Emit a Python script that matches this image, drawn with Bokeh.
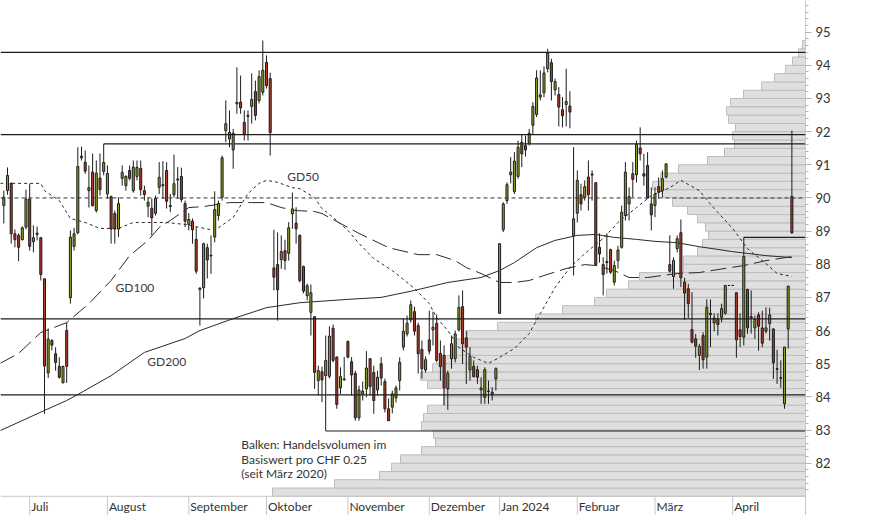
from bokeh.plotting import figure
from bokeh.models import Range1d, FixedTicker, Span, ColumnDataSource
from bokeh.core.properties import value
from bokeh.embed import file_html
from bokeh.resources import INLINE

# ---------------- data (daily candles, trading-day index 0..213) ----------------
open_ = [
    89.77, 90.22, 90.44, 88.92, 88.87, 88.74, 89.12, 89.97, 88.68, 88.90,
    88.80, 87.56, 84.72, 85.70, 85.30, 84.92, 84.42, 86.00, 86.99, 88.54,
    88.95, 91.21, 91.08, 90.22, 90.78, 89.62, 90.60, 90.80, 90.12, 90.04,
    89.53, 89.06, 90.59, 90.37, 90.83, 90.22, 90.65, 90.89, 90.22, 89.75,
    89.69, 89.54, 90.32, 90.37, 90.83, 89.74, 90.10, 90.54, 90.65, 89.83,
    89.20, 89.30, 88.75, 87.24, 87.29, 88.50, 88.25, 88.82, 89.47, 90.02,
    92.03, 91.78, 91.45, 92.84, 92.89, 92.28, 92.46, 92.76, 93.21, 92.94,
    93.19, 94.09, 93.60, 87.89, 87.99, 88.14, 88.41, 88.33, 89.52, 89.24,
    88.87, 87.93, 87.05, 86.55, 86.42, 84.49, 84.76, 84.64, 84.62, 86.07,
    85.20, 84.27, 84.51, 85.67, 85.06, 84.71, 83.37, 84.09, 84.24, 85.15,
    84.74, 84.21, 85.00, 84.46, 83.64, 83.69, 83.97, 84.49, 85.50, 85.90,
    86.32, 86.57, 86.15, 85.43, 84.81, 85.72, 86.02, 86.22, 85.31, 85.25,
    84.24, 85.15, 85.15, 86.02, 86.72, 85.78, 84.81, 84.92, 84.82, 84.21,
    83.99, 84.16, 84.14, 84.54, 86.52, 89.04, 89.92, 90.70, 90.19, 90.65,
    91.68, 91.58, 91.65, 92.19, 92.52, 93.04, 93.17, 93.90, 94.08, 93.26,
    93.12, 92.66, 92.82, 92.77, 88.87, 89.54, 90.10, 90.02, 90.63, 90.69,
    90.46, 88.51, 87.99, 88.05, 88.44, 87.46, 88.11, 88.51, 89.47, 89.82,
    90.73, 90.70, 91.51, 90.73, 90.98, 89.82, 89.77, 90.34, 90.22, 90.63,
    87.99, 87.63, 88.47, 88.95, 87.46, 87.26, 86.03, 85.75, 85.25, 85.85,
    85.20, 86.48, 86.23, 86.33, 86.40, 86.52, 87.36, 87.36, 87.14, 86.02,
    85.80, 87.24, 86.42, 86.08, 86.47, 86.08, 85.98, 86.21, 86.05, 84.85,
    84.58, 83.79, 86.05, 90.05,
]
high_ = [
    90.22, 90.92, 90.47, 89.05, 88.93, 89.14, 90.25, 90.43, 89.17, 89.14,
    88.82, 87.57, 86.06, 85.74, 85.50, 85.19, 84.94, 86.23, 89.02, 89.10,
    91.53, 91.55, 91.43, 90.98, 91.34, 91.13, 91.34, 91.63, 90.98, 90.07,
    89.62, 90.02, 90.98, 90.68, 90.98, 91.13, 91.13, 91.13, 90.37, 90.02,
    89.98, 90.07, 91.08, 91.11, 91.08, 90.12, 91.31, 90.93, 90.91, 89.92,
    89.54, 89.38, 89.12, 87.30, 88.65, 88.62, 88.87, 90.20, 89.92, 91.28,
    92.94, 92.64, 92.08, 93.94, 93.69, 92.64, 92.64, 93.76, 93.54, 93.85,
    94.75, 94.30, 93.78, 89.04, 88.96, 88.87, 88.74, 89.27, 90.16, 89.72,
    88.90, 87.96, 87.42, 87.39, 86.42, 84.94, 84.91, 85.85, 86.13, 86.18,
    85.22, 84.89, 85.20, 85.70, 85.20, 84.79, 84.34, 84.46, 85.38, 85.16,
    84.94, 84.79, 85.20, 84.55, 83.95, 84.19, 84.34, 85.19, 86.36, 86.45,
    86.91, 86.72, 86.24, 85.70, 85.22, 86.60, 86.57, 86.48, 85.70, 85.55,
    84.79, 85.85, 86.00, 87.06, 87.21, 86.00, 85.50, 85.10, 84.94, 84.59,
    84.89, 84.49, 84.29, 84.89, 88.63, 89.87, 90.47, 91.23, 91.38, 91.73,
    91.93, 91.88, 92.08, 92.89, 93.85, 93.85, 93.97, 94.50, 94.20, 93.60,
    93.34, 93.04, 93.90, 93.22, 91.53, 90.83, 90.43, 90.53, 91.13, 90.83,
    90.47, 88.93, 88.21, 88.93, 88.47, 88.11, 88.56, 89.77, 91.08, 90.32,
    91.08, 91.73, 92.13, 91.33, 91.38, 90.32, 90.32, 90.62, 90.83, 91.03,
    88.87, 88.21, 88.87, 89.35, 87.59, 87.41, 87.16, 85.90, 85.60, 85.95,
    86.94, 86.94, 86.52, 86.52, 86.81, 87.36, 87.36, 87.36, 87.15, 86.52,
    88.81, 87.26, 87.21, 86.45, 86.55, 86.60, 86.70, 86.69, 86.06, 85.42,
    85.10, 85.50, 87.35, 92.03,
]
low_ = [
    89.23, 90.10, 88.62, 88.51, 88.09, 88.72, 89.05, 88.41, 88.36, 88.72,
    87.51, 83.49, 84.57, 85.40, 84.79, 84.55, 84.42, 84.42, 86.81, 88.41,
    88.90, 91.13, 90.73, 89.71, 89.74, 89.56, 90.07, 90.68, 89.98, 88.62,
    88.62, 88.82, 90.37, 90.22, 90.53, 90.16, 90.53, 90.07, 89.92, 89.42,
    88.87, 89.47, 90.12, 89.97, 89.68, 89.57, 90.01, 89.97, 89.87, 89.12,
    89.02, 88.62, 87.71, 86.15, 86.97, 87.57, 87.71, 88.66, 89.32, 89.92,
    91.68, 91.53, 90.88, 92.54, 92.54, 91.73, 91.73, 92.24, 92.34, 92.85,
    93.09, 93.30, 91.28, 87.21, 86.30, 87.86, 87.83, 88.11, 89.07, 88.62,
    87.45, 87.12, 86.91, 85.85, 84.24, 84.04, 83.84, 82.97, 84.55, 85.04,
    83.64, 84.09, 84.49, 85.16, 84.04, 83.28, 83.28, 83.89, 83.99, 84.04,
    83.49, 84.04, 84.34, 83.53, 83.28, 83.50, 83.83, 84.19, 85.40, 85.82,
    86.24, 85.85, 84.70, 84.55, 84.73, 85.28, 85.55, 85.04, 84.49, 83.74,
    83.61, 84.85, 85.04, 85.97, 84.99, 84.39, 84.49, 84.59, 84.39, 83.79,
    83.79, 83.79, 83.89, 84.19, 86.50, 88.97, 89.82, 90.44, 90.12, 90.58,
    90.93, 91.25, 91.58, 91.93, 92.44, 92.94, 93.04, 93.79, 92.94, 93.09,
    92.16, 92.13, 92.16, 92.10, 87.66, 89.26, 89.62, 89.92, 89.62, 89.92,
    87.96, 88.05, 87.06, 87.72, 87.71, 87.36, 87.87, 88.47, 89.32, 89.32,
    90.02, 90.47, 91.13, 90.37, 89.98, 89.02, 89.42, 89.98, 90.02, 90.59,
    87.75, 87.26, 88.36, 87.31, 86.32, 86.38, 85.61, 85.18, 84.81, 84.85,
    84.85, 85.50, 85.98, 85.85, 86.25, 86.48, 87.36, 87.36, 85.18, 85.50,
    85.55, 85.90, 85.91, 85.75, 85.39, 85.50, 85.91, 85.70, 84.54, 84.39,
    84.27, 83.64, 85.45, 88.92,
]
close_ = [
    90.02, 90.68, 88.92, 88.74, 88.51, 89.10, 89.97, 88.54, 88.80, 88.94,
    87.69, 84.93, 85.74, 85.56, 85.04, 84.59, 84.92, 84.92, 88.82, 88.92,
    90.95, 91.26, 90.81, 90.31, 89.77, 90.75, 90.25, 91.07, 90.74, 89.06,
    89.06, 89.83, 90.77, 90.65, 90.59, 90.93, 90.92, 90.25, 90.10, 89.87,
    89.40, 89.98, 90.62, 90.40, 89.90, 89.77, 90.43, 90.57, 89.95, 89.30,
    89.35, 89.04, 87.79, 87.28, 88.62, 88.13, 88.27, 89.65, 89.83, 91.21,
    92.24, 91.98, 91.95, 92.88, 92.72, 91.91, 92.49, 92.97, 92.49, 93.66,
    93.85, 93.39, 91.97, 87.61, 87.23, 88.38, 88.11, 89.10, 89.67, 89.07,
    87.51, 87.19, 87.35, 87.14, 84.74, 84.79, 84.51, 85.10, 85.83, 85.10,
    83.77, 84.61, 84.54, 85.20, 84.66, 83.37, 84.21, 84.17, 84.87, 84.31,
    83.89, 84.59, 84.57, 83.64, 83.28, 84.09, 84.27, 85.04, 85.98, 86.22,
    86.78, 85.98, 85.30, 84.85, 85.12, 85.38, 86.10, 85.10, 84.91, 84.27,
    84.71, 85.60, 85.90, 86.70, 85.60, 85.50, 85.22, 84.61, 84.59, 84.27,
    84.82, 84.18, 84.07, 84.85, 88.62, 89.82, 90.40, 90.78, 91.11, 91.53,
    91.33, 91.45, 91.95, 92.76, 93.62, 93.11, 93.77, 94.37, 93.51, 93.51,
    92.74, 92.48, 92.91, 92.59, 89.37, 90.53, 89.82, 90.34, 90.10, 90.72,
    87.99, 88.31, 87.69, 88.08, 87.76, 87.96, 88.43, 89.57, 90.78, 90.04,
    90.56, 91.61, 91.33, 90.66, 90.00, 89.49, 90.12, 90.17, 90.58, 91.03,
    87.79, 88.11, 88.77, 87.59, 87.13, 86.81, 85.65, 85.53, 85.52, 85.12,
    86.70, 86.52, 86.38, 86.18, 86.66, 87.36, 87.36, 87.36, 85.72, 85.82,
    88.23, 86.08, 86.38, 86.33, 86.13, 85.62, 86.08, 86.47, 85.03, 84.83,
    84.56, 85.50, 87.34, 88.95,
]

# month labels and the trading-day index where each month starts
month_labels = ["Juli", "August", "September", "Oktober", "November",
                "Dezember", "Jan 2024", "Februar", "März", "April"]
month_start = [7, 28, 50, 71, 93, 115, 134, 155, 176, 197]

price_ticks = [82, 83, 84, 85, 86, 87, 88, 89, 90, 91, 92, 93, 94, 95]

# moving averages (sampled from the chart)
gd50_x = [-1, 10, 11, 15, 18, 22, 26, 31, 35, 44, 49, 53, 57, 62, 66, 69, 71, 74, 78, 80,
          84, 86, 90, 93, 96, 100, 105, 111, 115, 117, 120, 123, 127, 131, 134, 138, 142, 145, 149, 153,
          157, 162, 166, 171, 175, 180, 183, 188, 192, 197, 201, 206, 209, 213]
gd50 = [90.44, 90.44, 90.22, 89.92, 89.38, 89.26, 89.08, 89.08, 89.26, 89.26,
        89.20, 89.11, 89.02, 89.41, 90.13, 90.44, 90.53, 90.47, 90.31, 90.28,
        90.01, 89.68, 89.32, 89.02, 88.63, 88.17, 87.81, 87.27, 86.81, 86.39,
        86.00, 85.49, 85.19, 85.01, 85.19, 85.46, 85.91, 86.51, 87.30, 87.90,
        88.32, 88.78, 89.26, 89.71, 90.07, 90.31, 90.53, 90.22, 89.68, 89.08,
        88.47, 88.02, 87.72, 87.63]
gd100_x = [-1, 4, 10, 17, 23, 29, 34, 39, 42, 45, 50, 54, 61, 67, 71, 75, 79, 84, 86, 91,
           96, 104, 112, 117, 122, 125, 129, 134, 138, 142, 146, 152, 157, 160, 165, 169, 174, 182, 188, 193,
           200, 206, 213]
gd100 = [85.01, 85.31, 85.94, 86.24, 86.81, 87.51, 88.26, 88.72, 89.11, 89.32,
         89.71, 89.74, 89.86, 89.86, 89.86, 89.71, 89.62, 89.59, 89.53, 89.23,
         88.93, 88.50, 88.29, 88.29, 88.11, 87.90, 87.72, 87.45, 87.45, 87.51,
         87.66, 87.87, 87.99, 87.96, 87.81, 87.60, 87.60, 87.72, 87.75, 87.84,
         87.96, 88.11, 88.23]
gd200_x = [-1, 11, 17, 20, 29, 38, 49, 53, 62, 71, 80, 93, 102, 111, 120, 129, 134, 138, 144, 149,
           155, 160, 165, 171, 176, 182, 188, 197, 206, 213]
gd200 = [82.98, 83.59, 83.89, 84.07, 84.64, 85.34, 85.76, 86.00, 86.36, 86.69,
         86.84, 86.94, 87.00, 87.21, 87.45, 87.60, 87.81, 88.05, 88.50, 88.72,
         88.87, 88.90, 88.81, 88.75, 88.69, 88.65, 88.53, 88.38, 88.26, 88.20]

# volume profile: traded volume per CHF 0.25 price bucket (lower edge of bucket)
profile_price = [81.00, 81.25, 81.50, 81.75, 82.00, 82.25, 82.50, 82.75, 83.00, 83.25,
                 83.50, 83.75, 84.00, 84.25, 84.50, 84.75, 85.00, 85.25, 85.50, 85.75,
                 86.00, 86.25, 86.50, 86.75, 87.00, 87.25, 87.50, 87.75, 88.00, 88.25,
                 88.50, 88.75, 89.00, 89.25, 89.50, 89.75, 90.00, 90.25, 90.50, 90.75,
                 91.00, 91.25, 91.50, 91.75, 92.00, 92.25, 92.50, 92.75, 93.00, 93.25,
                 93.50, 93.75, 94.00, 94.25, 94.50]
profile_volume = [533, 471, 426, 414, 405, 384, 370, 372, 384, 382,
                  378, 362, 362, 378, 385, 373, 365, 355, 350, 338,
                  308, 270, 243, 211, 199, 177, 166, 122, 122, 108,
                  103, 97, 100, 108, 118, 133, 143, 153, 145, 127,
                  98, 81, 71, 73, 70, 77, 79, 75, 62, 44,
                  31, 20, 13, 7, 3]

# horizontal support / resistance levels
level_lines = [94.39, 91.91, 86.35, 84.06]
dashed_level = 90.0
bracket_start = [27, 87, 200]
bracket_level = [91.63, 82.97, 88.81]

# ---------------- styling / layout constants ----------------
FONT = "Lato"
GREEN = "#8FA31F"
RED = "#B53A24"
INK = "#1c1c1c"
GRID_GRAY = "#c8c8c8"
X0, X1 = -0.892, 216.68
Y0, Y1 = 80.421, 95.956
FRAME_W, FRAME_H = 805, 515
FLOOR = 81.0

n = len(open_)
assert n == len(high_) == len(low_) == len(close_)
assert len(gd50_x) == len(gd50) and len(gd100_x) == len(gd100) and len(gd200_x) == len(gd200)
assert len(profile_price) == len(profile_volume)

idx = list(range(n))
src = ColumnDataSource(dict(
    x=idx,
    top=[max(o, c) for o, c in zip(open_, close_)],
    bottom=[min(o, c) for o, c in zip(open_, close_)],
    high=high_, low=low_,
    color=[GREEN if c >= o else RED for o, c in zip(open_, close_)],
))

p = figure(frame_width=FRAME_W, frame_height=FRAME_H,
           x_range=Range1d(X0, X1), y_range=Range1d(Y0, Y1),
           y_axis_location="right", x_axis_location=None,
           toolbar_location=None, output_backend="svg",
           min_border=0, min_border_left=0, min_border_right=0,
           min_border_top=0, min_border_bottom=0,
           outline_line_color=None,
           background_fill_color="white", border_fill_color="white")
p.grid.visible = False

# volume profile bars growing from the right edge
p.extra_x_ranges = {"vol": Range1d(start=FRAME_W, end=0)}
p.hbar(y=[v + 0.125 for v in profile_price], height=0.25, left=0, right=profile_volume,
       x_range_name="vol", fill_color="#dfdfdf", line_color="#bdbdbd", line_width=1)

# bottom axis line and month separators / labels
p.add_layout(Span(location=FLOOR, dimension="width", line_color=GRID_GRAY, line_width=1))
p.segment(x0=month_start, y0=[FLOOR] * len(month_start), x1=month_start, y1=[Y0] * len(month_start),
          line_color=GRID_GRAY, line_width=1)
p.text(x=month_start, y=[80.69] * len(month_start), text=month_labels, x_offset=1.5,
       text_font=value(FONT), text_font_size="12px", text_color="#333333",
       text_align="left", text_baseline="middle")

# horizontal levels
for lv in level_lines:
    p.add_layout(Span(location=lv, dimension="width", line_color=INK, line_width=1.2))
p.add_layout(Span(location=dashed_level, dimension="width", line_color="#333333",
                  line_width=1, line_dash="4 3"))
p.segment(x0=bracket_start, y0=bracket_level, x1=[X1] * len(bracket_start), y1=bracket_level,
          line_color=INK, line_width=1.2)

# moving averages
p.line(gd200_x, gd200, line_color="#2a2a2a", line_width=1)
p.line(gd100_x, gd100, line_color="#2a2a2a", line_width=1, line_dash="16 6")
p.line(gd50_x, gd50, line_color="#2a2a2a", line_width=1, line_dash="3 3")

# candles
p.segment(x0="x", y0="low", x1="x", y1="high", source=src, line_color=INK, line_width=1)
p.vbar(x="x", width=0.55, top="top", bottom="bottom", source=src,
       fill_color="color", line_color=INK, line_width=1)

# labels
p.text(x=[76.6, 30.2, 38.8], y=[90.64, 87.30, 85.07], text=["GD50", "GD100", "GD200"],
       text_font=value(FONT), text_font_size="12px", text_color="#3a3a3a",
       text_align="left", text_baseline="middle")
p.text(x=[64.2] * 3, y=[82.55, 82.12, 81.70],
       text=["Balken: Handelsvolumen im", "Basiswert pro CHF 0.25", "(seit März 2020)"],
       text_font=value(FONT), text_font_size="12px", text_color="#333333",
       text_align="left", text_baseline="middle")

# right price axis
ax = p.yaxis[0]
ax.ticker = FixedTicker(ticks=price_ticks,
                        minor_ticks=[round(81.2 + 0.2 * k, 1) for k in range(74)])
ax.axis_line_color = GRID_GRAY
ax.major_tick_line_color = "#b4b4b4"
ax.minor_tick_line_color = "#b4b4b4"
ax.major_tick_in = 0
ax.major_tick_out = 6
ax.minor_tick_in = 0
ax.minor_tick_out = 3
ax.major_label_standoff = 4
ax.major_label_text_font = FONT
ax.major_label_text_font_size = "13px"
ax.major_label_text_color = "#333333"

open("out.html", "w").write(file_html(p, INLINE, title="Chart"))
